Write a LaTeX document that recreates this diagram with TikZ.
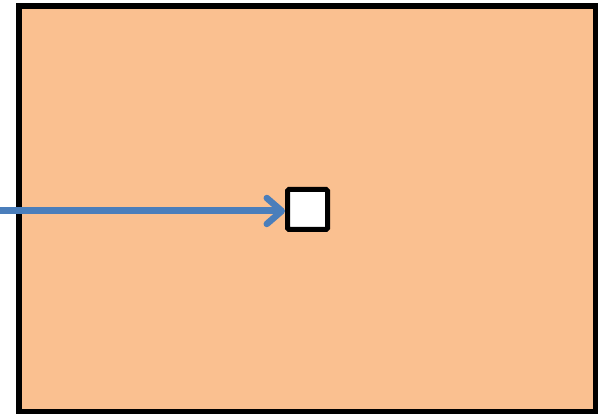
\documentclass[tikz,border=0pt]{standalone}
\usepackage{xcolor}
\usepackage{tikz}
\usetikzlibrary{arrows.meta,positioning,calc}
\definecolor{platefill}{HTML}{FAC090}
\definecolor{arrowblue}{HTML}{4A7EBB}

\begin{document}
\begin{tikzpicture}[x=1pt,y=-1pt,
  plate/.style={draw=black, fill=platefill, line width=5.5pt, rectangle,
    minimum width=576.5pt, minimum height=405.5pt, inner sep=0pt},
  hole/.style={draw=black, fill=white, line width=5pt, rectangle, rounded corners=1.5pt,
    minimum width=40pt, minimum height=40pt, inner sep=0pt},
  ray/.style={-{Straight Barb[length=15pt,width=26pt,line width=6.5pt,round]},
    line width=7pt, arrowblue}
]
\useasboundingbox (0,0) rectangle (600,414);
\node[plate] (body) at (307.25,208.75) {};
\node[hole] (pin) at (307.5,209.5) {};
\coordinate (src) at (0,211);
\draw[ray] (src) -- (pin.west |- src);
\end{tikzpicture}
\end{document}
